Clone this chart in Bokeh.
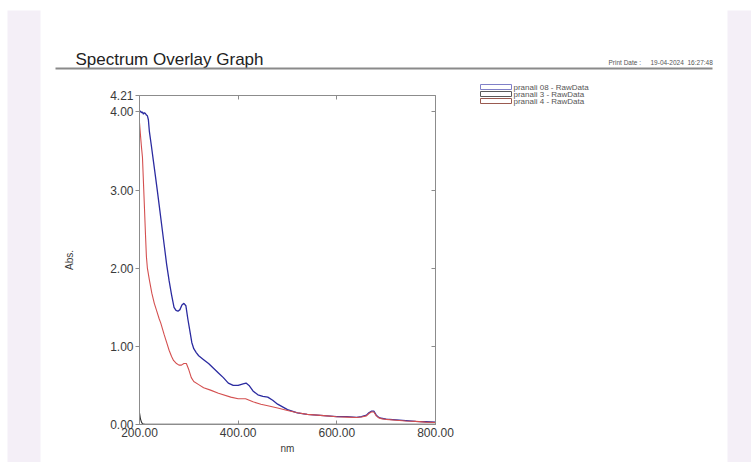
from bokeh.plotting import figure
from bokeh.models import (LinearAxis, FixedTicker, NumeralTickFormatter, Label,
                          Range1d, BoxAnnotation)
from bokeh.layouts import row, column
from bokeh.embed import file_html
from bokeh.resources import INLINE

# ---------------- data ----------------
x_ticks = [200, 400, 600, 800]
y_ticks = [0, 1, 2, 3, 4, 4.21]
series_names = ["pranali 08 - RawData", "pranali 3 - RawData", "pranali 4 - RawData"]

nm_08 = [200, 202, 204, 206, 208, 210, 212, 214, 216, 218, 220, 224, 228, 232, 236, 240, 245,
         250, 255, 260, 265, 270, 274, 278, 282, 286, 290, 294, 298, 302, 306, 310, 315, 320,
         330, 340, 350, 360, 370, 380, 390, 400, 410, 416, 422, 430, 440, 450, 460, 470, 480,
         500, 520, 540, 560, 580, 600, 620, 640, 650, 660, 665, 670, 675, 680, 685, 690, 700,
         720, 740, 760, 780, 800]
abs_08 = [4.00, 4.01, 3.99, 4.00, 3.97, 3.99, 3.98, 3.96, 3.95, 3.90, 3.75, 3.57, 3.38, 3.19,
          3.00, 2.80, 2.55, 2.30, 2.05, 1.84, 1.66, 1.50, 1.46, 1.45, 1.47, 1.53, 1.55, 1.52,
          1.35, 1.20, 1.05, 0.97, 0.92, 0.88, 0.83, 0.78, 0.72, 0.66, 0.60, 0.53, 0.50, 0.50,
          0.52, 0.53, 0.50, 0.43, 0.38, 0.36, 0.35, 0.31, 0.26, 0.19, 0.15, 0.13, 0.12, 0.11,
          0.10, 0.10, 0.09, 0.10, 0.12, 0.15, 0.17, 0.17, 0.12, 0.09, 0.08, 0.07, 0.06, 0.05,
          0.04, 0.035, 0.03]

nm_3 = [200, 202, 204, 206, 210, 250, 300, 400, 500, 600, 700, 800]
abs_3 = [0.15, 0.07, 0.03, 0.01, 0.005, 0.004, 0.003, 0.003, 0.002, 0.002, 0.001, 0.001]

nm_4 = [200, 202, 204, 206, 208, 210, 212, 214, 216, 220, 225, 230, 235, 240, 243, 250, 255,
        260, 265, 269, 275, 280, 285, 290, 295, 300, 305, 310, 320, 330, 344, 360, 385, 400,
        415, 430, 446, 460, 480, 500, 520, 540, 560, 580, 600, 620, 640, 650, 660, 665, 670,
        675, 680, 685, 690, 700, 720, 740, 760, 780, 800]
abs_4 = [3.86, 3.70, 3.55, 3.42, 3.10, 2.78, 2.45, 2.15, 2.00, 1.85, 1.68, 1.55, 1.45, 1.35,
         1.30, 1.15, 1.05, 0.95, 0.87, 0.82, 0.78, 0.76, 0.76, 0.78, 0.78, 0.70, 0.60, 0.55,
         0.51, 0.47, 0.44, 0.40, 0.35, 0.33, 0.33, 0.29, 0.26, 0.24, 0.21, 0.18, 0.15, 0.13,
         0.12, 0.11, 0.10, 0.095, 0.09, 0.095, 0.11, 0.14, 0.16, 0.16, 0.11, 0.085, 0.075,
         0.065, 0.055, 0.045, 0.04, 0.03, 0.025]

# ---------------- style ----------------
LAV = "#f4eff7"
FRAME = "#8c8c8c"
TXT = "#3a3a3a"
FONT = "Liberation Sans"
C08 = "#2b2ba0"
C3 = "#333333"
C4 = "#d45050"
SWATCH = ["#8080c8", "#5a5a5a", "#9a5a50"]

H = 462
HEAD_H = 72
BODY_H = H - HEAD_H
MAIN_W = 420
LEG_W = 684 - MAIN_W


def blank(w, h, bg, border="white", **mb):
    s = figure(width=w, height=h, toolbar_location=None, output_backend="svg",
               x_range=Range1d(0, 1), y_range=Range1d(0, 1),
               min_border=0, outline_line_color=None,
               background_fill_color=bg, border_fill_color=border, **mb)
    s.axis.visible = False
    s.grid.visible = False
    return s


left_strip = blank(43, H, LAV, min_border_left=7, min_border_right=3, min_border_top=10)
right_strip = blank(24, H, LAV, min_border_top=10)

# header: title, print date, rule
header = blank(684, HEAD_H, "white")
header.add_layout(Label(x=32, y=13, x_units="screen", y_units="screen",
                        text="Spectrum Overlay Graph", text_font=FONT, text_font_size="17px",
                        text_color="#222222", text_baseline="alphabetic"))
for tx, txt in [(565, "Print Date :"), (607, "19-04-2024"), (644, "16:27:48")]:
    header.add_layout(Label(x=tx, y=10, x_units="screen", y_units="screen", text=txt,
                            text_font=FONT, text_font_size="6.5px", text_color="#555555",
                            text_baseline="alphabetic"))
header.add_layout(BoxAnnotation(left=12, right=669, top=5, bottom=3,
                                left_units="screen", right_units="screen",
                                top_units="screen", bottom_units="screen",
                                fill_color="#8a8a8a", fill_alpha=1, line_color=None))

# main plot
p = figure(width=MAIN_W, height=BODY_H, toolbar_location=None, output_backend="svg",
           x_range=Range1d(200, 800), y_range=Range1d(0, 4.21),
           min_border_left=96, min_border_right=28, min_border_top=23, min_border_bottom=38,
           background_fill_color="white", border_fill_color="white",
           outline_line_color=FRAME)
p.grid.visible = False

xa = p.xaxis[0]
xa.ticker = FixedTicker(ticks=x_ticks)
xa.formatter = NumeralTickFormatter(format="0.00")
xa.major_tick_in = 4
xa.major_tick_out = 0
xa.minor_tick_line_color = None
xa.axis_line_color = FRAME
xa.major_tick_line_color = FRAME
xa.major_label_text_font = FONT
xa.major_label_text_font_size = "12px"
xa.major_label_text_color = TXT
xa.major_label_standoff = 3
xa.axis_label = "nm"
xa.axis_label_text_font = FONT
xa.axis_label_text_font_size = "10px"
xa.axis_label_text_font_style = "normal"
xa.axis_label_text_color = TXT
xa.axis_label_standoff = 3

ya = p.yaxis[0]
ya.ticker = FixedTicker(ticks=y_ticks)
ya.formatter = NumeralTickFormatter(format="0.00")
ya.major_tick_in = 0
ya.major_tick_out = 4
ya.minor_tick_line_color = None
ya.axis_line_color = FRAME
ya.major_tick_line_color = FRAME
ya.major_label_text_font = FONT
ya.major_label_text_font_size = "12px"
ya.major_label_text_color = TXT
ya.major_label_standoff = 2
ya.axis_label = "Abs."
ya.axis_label_text_font = FONT
ya.axis_label_text_font_size = "10px"
ya.axis_label_text_font_style = "normal"
ya.axis_label_text_color = TXT
ya.axis_label_standoff = 32

top = LinearAxis(ticker=FixedTicker(ticks=[400, 600]), major_tick_in=4, major_tick_out=0,
                 minor_tick_line_color=None, axis_line_color=FRAME, major_tick_line_color=FRAME,
                 major_label_text_font_size="0px", major_label_standoff=0,
                 major_label_overrides={400: "", 600: ""})
right = LinearAxis(ticker=FixedTicker(ticks=[1, 2, 3, 4]), major_tick_in=4, major_tick_out=0,
                   minor_tick_line_color=None, axis_line_color=FRAME, major_tick_line_color=FRAME,
                   major_label_text_font_size="0px", major_label_standoff=0,
                   major_label_overrides={1: "", 2: "", 3: "", 4: ""})
p.add_layout(top, "above")
p.add_layout(right, "right")

r08 = p.line(nm_08, abs_08, line_color=C08, line_width=1.3)
r4 = p.line(nm_4, abs_4, line_color=C4, line_width=1.1)
r3 = p.line(nm_3, abs_3, line_color=C3, line_width=1.1)

# legend panel to the right of the plot (swatch boxes + labels)
leg_fig = blank(LEG_W, BODY_H, "white")
for i, (name, col) in enumerate(zip(series_names, SWATCH)):
    top_y = 378 - 7 * i
    leg_fig.add_layout(BoxAnnotation(left=17, right=48, top=top_y, bottom=top_y - 5,
                                     left_units="screen", right_units="screen",
                                     top_units="screen", bottom_units="screen",
                                     fill_color="white", fill_alpha=1,
                                     line_color=col, line_alpha=1, line_width=1))
    leg_fig.add_layout(Label(x=50, y=top_y - 2.5, x_units="screen", y_units="screen",
                             text=name, text_font=FONT, text_font_size="8px",
                             text_color="#555555", text_baseline="middle"))

body = row(column(p, width=MAIN_W, height=BODY_H), column(leg_fig, width=LEG_W, height=BODY_H))
layout = row(left_strip, column(header, body), right_strip)
open("out.html", "w").write(file_html(layout, INLINE))
